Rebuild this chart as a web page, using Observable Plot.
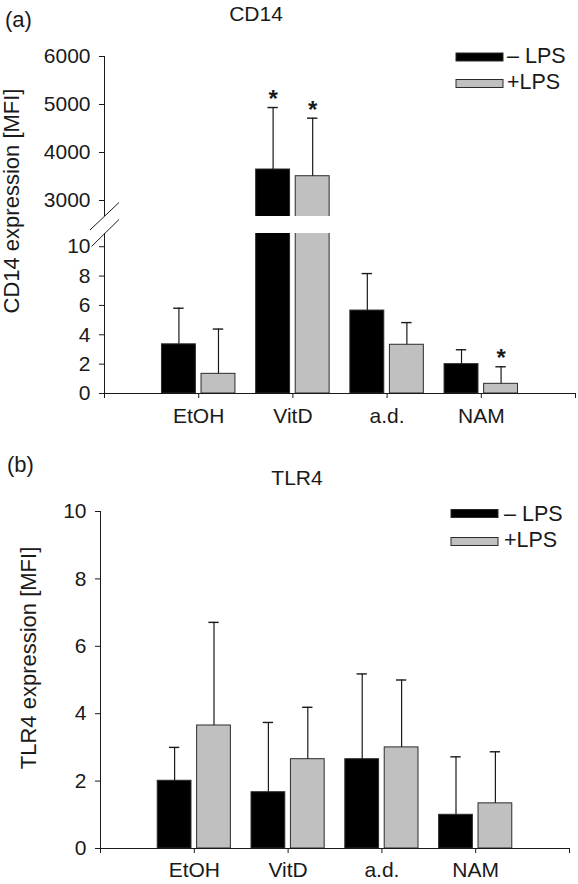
<!DOCTYPE html>
<html><head><meta charset="utf-8">
<script src="https://cdn.jsdelivr.net/npm/d3@7"></script>
<script src="https://cdn.jsdelivr.net/npm/@observablehq/plot@0.6"></script>
<style>
body{margin:0;background:#fff;}
#wrap{position:relative;width:578px;height:884px;overflow:hidden;font-family:"Liberation Sans",Arial,sans-serif;}
#wrap > svg, #wrap > figure {position:absolute;left:0;margin:0;}
</style></head><body><div id="wrap"></div>
<script>
// ---- data ----
const categories = ["EtOH", "VitD", "a.d.", "NAM"];
const seriesNames = ["– LPS", "+LPS"];

const cd14Minus   = [3.35, 3646, 5.65, 2.0];
const cd14MinusSD = [2.46, 1291, 2.52, 0.98];
const cd14Plus    = [1.34, 3506, 3.32, 0.66];
const cd14PlusSD  = [3.05, 1209, 1.51, 1.16];
const cd14Stars   = [["VitD", "– LPS"], ["VitD", "+LPS"], ["NAM", "+LPS"]];

const tlr4Minus   = [2.01, 1.67, 2.65, 1.0];
const tlr4MinusSD = [0.99, 2.07, 2.53, 1.72];
const tlr4Plus    = [3.65, 2.65, 3.0, 1.34];
const tlr4PlusSD  = [3.06, 1.54, 2.0, 1.53];

const cd14UpperTicks = [3000, 4000, 5000, 6000];
const cd14LowerTicks = [0, 2, 4, 6, 8, 10];
const tlr4Ticks      = [0, 2, 4, 6, 8, 10];
const xTickPositions = [0, 1, 2, 3, 4, 5];

// ---- styling ----
const barOffset = {"– LPS": [-0.39, -0.03], "+LPS": [0.03, 0.39]};
const barFill = {"– LPS": "#000000", "+LPS": "#c0c0c0"};
const capHalf = 0.055;
const FONT = '"Liberation Sans", Arial, Helvetica, sans-serif';
const INK = "#1a1a1a";

function buildRows(minus, minusSD, plus, plusSD) {
  const out = [];
  categories.forEach((c, i) => {
    out.push({cat: c, pos: i + 1, series: seriesNames[0], value: minus[i], sd: minusSD[i]});
    out.push({cat: c, pos: i + 1, series: seriesNames[1], value: plus[i], sd: plusSD[i]});
  });
  return out;
}
const cx = d => d.pos + (barOffset[d.series][0] + barOffset[d.series][1]) / 2;
const top_ = d => d.value + d.sd;

function dataMarks(rows, stars, yDomain) {
  const [lo, hi] = yDomain;
  const marks = [];
  for (const s of seriesNames) {
    const sub = rows.filter(d => d.series === s && d.value > lo);
    marks.push(Plot.rectY(sub, {
      x1: d => d.pos + barOffset[s][0], x2: d => d.pos + barOffset[s][1],
      y1: 0, y2: "value", fill: barFill[s], stroke: "#2b2b2b", strokeWidth: 1, clip: true
    }));
  }
  const errRows = rows.filter(d => top_(d) > lo && d.value < hi);
  marks.push(Plot.ruleX(errRows, {x: cx, y1: "value", y2: top_, stroke: INK, strokeWidth: 1.2, clip: true}));
  const capRows = rows.filter(d => top_(d) >= lo && top_(d) <= hi);
  marks.push(Plot.ruleY(capRows, {y: top_, x1: d => cx(d) - capHalf, x2: d => cx(d) + capHalf, stroke: INK, strokeWidth: 1.4}));
  if (stars) {
    const starRows = capRows.filter(d => stars.some(([c, s]) => c === d.cat && s === d.series));
    marks.push(Plot.text(starRows, {x: cx, y: top_, text: () => "*", dy: -8, fontSize: 24, fontWeight: "bold", fill: INK}));
  }
  return marks;
}

const cd14Rows = buildRows(cd14Minus, cd14MinusSD, cd14Plus, cd14PlusSD);
const tlr4Rows = buildRows(tlr4Minus, tlr4MinusSD, tlr4Plus, tlr4PlusSD);
const wrap = document.getElementById("wrap");
const baseStyle = {fontFamily: FONT, fontSize: "21px", color: INK, background: "transparent", overflow: "visible"};

function place(el, top) { el.style.top = top + "px"; wrap.appendChild(el); }

// Panel (a) upper segment
const upperDomain = [2667, 6000];
const aUpper = Plot.plot({
  width: 578, height: 216, marginTop: 56, marginBottom: 0, marginLeft: 104, marginRight: 3,
  style: baseStyle,
  x: {domain: [0, 5], axis: null},
  y: {domain: upperDomain, axis: null},
  marks: [
    Plot.ruleX([0], {stroke: INK}),
    Plot.axisY({ticks: cd14UpperTicks, tickSize: 5, tickPadding: 9, tickFormat: d => String(d), label: null, stroke: INK}),
    ...dataMarks(cd14Rows, cd14Stars, upperDomain)
  ]
});
place(aUpper, 0);

// Panel (a) lower segment
const lowerDomain = [0, 10.9];
const aLower = Plot.plot({
  width: 578, height: 234, marginTop: 17, marginBottom: 57, marginLeft: 104, marginRight: 3,
  style: baseStyle,
  x: {domain: [0, 5], axis: null},
  y: {domain: lowerDomain, axis: null},
  marks: [
    Plot.ruleX([0], {stroke: INK}),
    Plot.axisY({ticks: cd14LowerTicks, tickSize: 5, tickPadding: 9, tickFormat: d => String(d), label: null, stroke: INK}),
    ...dataMarks(cd14Rows, cd14Stars, lowerDomain),
    Plot.ruleY([0], {stroke: INK}),
    Plot.axisX({ticks: xTickPositions, tickSize: 5, tickPadding: 10, tickFormat: i => categories[i - 1] ?? "", label: null, stroke: INK})
  ]
});
place(aLower, 216);

// Panel (b)
const bDomain = [0, 10];
const bPlot = Plot.plot({
  width: 578, height: 434, marginTop: 61, marginBottom: 36, marginLeft: 100, marginRight: 9,
  style: baseStyle,
  x: {domain: [0, 5], axis: null},
  y: {domain: bDomain, axis: null},
  marks: [
    Plot.ruleX([0], {stroke: INK}),
    Plot.axisY({ticks: tlr4Ticks, tickSize: 5, tickPadding: 9, tickFormat: d => String(d), label: null, stroke: INK}),
    ...dataMarks(tlr4Rows, null, bDomain),
    Plot.ruleY([0], {stroke: INK}),
    Plot.axisX({ticks: xTickPositions, tickSize: 5, tickPadding: 9, tickFormat: i => categories[i - 1] ?? "", label: null, stroke: INK})
  ]
});
place(bPlot, 450);

// Overlay: titles, axis labels, legends, axis-break marks
const NS = "http://www.w3.org/2000/svg";
const ov = document.createElementNS(NS, "svg");
ov.setAttribute("width", 578); ov.setAttribute("height", 884);
ov.style.top = "0px"; ov.style.fontFamily = FONT; ov.style.fill = INK;
wrap.appendChild(ov);
function el(tag, attrs, text) {
  const e = document.createElementNS(NS, tag);
  for (const k in attrs) e.setAttribute(k, attrs[k]);
  if (text != null) e.textContent = text;
  ov.appendChild(e); return e;
}
// titles
el("text", {x: 5, y: 27, "font-size": 22}, "(a)");
el("text", {x: 256, y: 20.5, "font-size": 21, "text-anchor": "middle"}, "CD14");
el("text", {x: 7, y: 472, "font-size": 22}, "(b)");
el("text", {x: 297, y: 485, "font-size": 21, "text-anchor": "middle"}, "TLR4");
// y labels
el("text", {transform: "translate(19,201) rotate(-90)", "font-size": 22, "text-anchor": "middle"}, "CD14 expression [MFI]");
el("text", {transform: "translate(35.5,658) rotate(-90)", "font-size": 22, "text-anchor": "middle"}, "TLR4 expression [MFI]");
// legends
function legend(x, yBlack, yGray, h, tx, by1, by2) {
  el("rect", {x: x, y: yBlack, width: 47, height: h, fill: "#000", stroke: "#2b2b2b"});
  el("rect", {x: x, y: yGray, width: 47, height: h, fill: barFill["+LPS"], stroke: "#2b2b2b"});
  el("text", {x: tx, y: by1, "font-size": 21.5}, seriesNames[0]);
  el("text", {x: tx, y: by2, "font-size": 21.5}, seriesNames[1]);
}
legend(456, 53, 79.5, 8, 507, 62.5, 89);
legend(451, 509.5, 537.5, 8, 504, 520.5, 547);
// axis-break marks
el("line", {x1: 90, y1: 230, x2: 119, y2: 202.5, stroke: INK, "stroke-width": 1});
el("line", {x1: 91.5, y1: 246.5, x2: 119, y2: 219.5, stroke: INK, "stroke-width": 1});
</script></body></html>
